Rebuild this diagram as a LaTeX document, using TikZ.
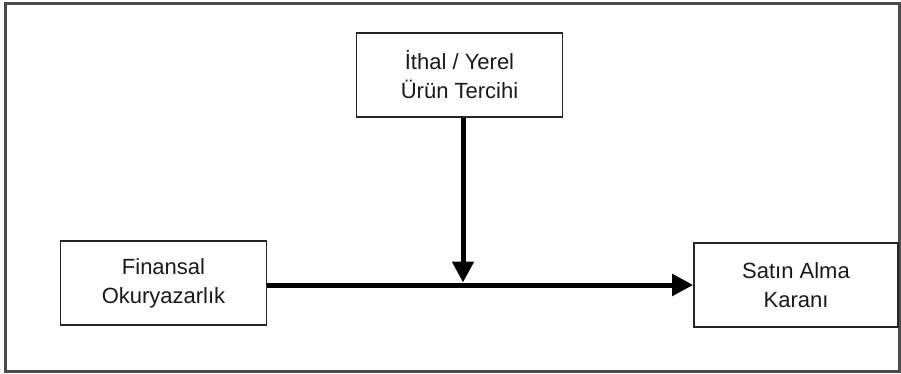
\documentclass[tikz,border=0pt]{standalone}
\usepackage{fontspec}
\setmainfont{Liberation Sans}
\usepackage{tikz}
\usetikzlibrary{positioning}
\usetikzlibrary{arrows.meta}
\begin{document}
\begin{tikzpicture}[x=1pt,y=-1pt,
  varbox/.style={draw=black!85,line width=1.6pt,minimum width=206pt,minimum height=84pt,
    align=center,font=\fontsize{22}{29}\selectfont,text=black!90,inner sep=0pt},
  thickarrow/.style={line width=5pt,-{Triangle[length=21pt,width=21pt]}}]
\useasboundingbox (0,0) rectangle (901,374);
\draw[black!70,line width=3pt] (5,4) rectangle (899,371);
\node (urun) at (459.5,75) [varbox]{İthal / Yerel\\Ürün Tercihi};
\node (finans) at (163.5,283) [varbox]{Finansal\\Okuryazarlık};
\node (karar) at (796,285) [varbox,minimum width=204pt]{Satın Alma\\Karanı};
\draw[thickarrow] (finans.east|-karar.west) -- (karar.west);
\coordinate (ust) at ([xshift=3.5pt]urun.south);
\coordinate (ortak) at (ust|-karar.west);
\draw[thickarrow,shorten >=2.5pt] (ust) -- (ortak);
\end{tikzpicture}
\end{document}
